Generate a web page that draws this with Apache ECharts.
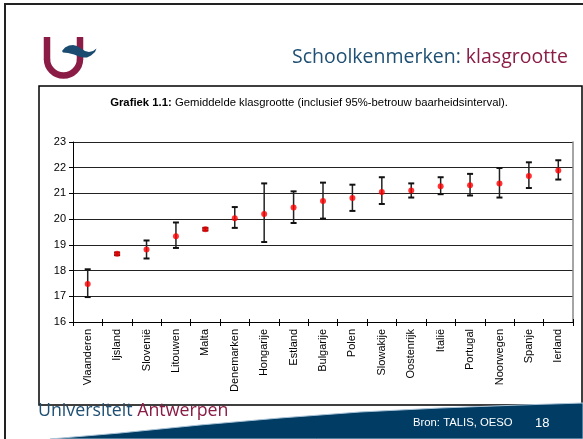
<!DOCTYPE html>
<html>
<head>
<meta charset="utf-8">
<script src="https://cdn.jsdelivr.net/npm/echarts@6/dist/echarts.min.js"></script>
<style>html,body{margin:0;padding:0;background:#fff;}#c{width:583px;height:439px;}</style>
</head>
<body>
<div id="c"></div>
<script>
var categories = ['Vlaanderen','Ijsland','Slovenië','Litouwen','Malta','Denemarken','Hongarije','Estland','Bulgarije','Polen','Slowakije','Oostenrijk','Italië','Portugal','Noorwegen','Spanje','Ierland'];
var means = [17.48, 18.65, 18.82, 19.33, 19.61, 20.03, 20.20, 20.45, 20.71, 20.82, 21.06, 21.11, 21.28, 21.32, 21.39, 21.68, 21.89];
var lower = [16.97, 18.60, 18.47, 18.88, 19.56, 19.66, 19.11, 19.85, 20.02, 20.32, 20.59, 20.84, 20.97, 20.92, 20.84, 21.21, 21.54];
var upper = [18.05, 18.70, 19.17, 19.87, 19.66, 20.47, 21.39, 21.08, 21.42, 21.34, 21.63, 21.39, 21.63, 21.76, 21.99, 22.21, 22.29];
var yTicks = [16, 17, 18, 19, 20, 21, 22, 23];

var errData = categories.map(function (c, i) { return [i, lower[i], upper[i]]; });
var chart = echarts.init(document.getElementById('c'), null, {renderer: 'canvas'});
var fontF = '"Liberation Sans", Arial, sans-serif';
var maroon = '#8a1c45', navy = '#1f5073';

chart.setOption({
  animation: false,
  backgroundColor: '#fff',
  grid: {left: 73, right: 10, top: 142, bottom: 117, containLabel: false},
  xAxis: [{
    type: 'category', data: categories, boundaryGap: true,
    axisLine: {lineStyle: {color: '#000', width: 1}},
    axisTick: {show: true, interval: 0, length: 4, lineStyle: {color: '#000'}},
    axisLabel: {interval: 0, rotate: 90, fontSize: 11, color: '#000', fontFamily: fontF, margin: 7},
    splitLine: {show: false}
  }, {
    type: 'category', data: categories, boundaryGap: true, position: 'bottom',
    axisLine: {show: false},
    axisTick: {show: true, inside: true, interval: 0, length: 3, lineStyle: {color: '#000'}},
    axisLabel: {show: false}
  }],
  yAxis: [{
    type: 'value', min: yTicks[0], max: yTicks[yTicks.length - 1], interval: 1,
    axisLine: {show: true, lineStyle: {color: '#000', width: 1}},
    axisTick: {show: true, length: 4, lineStyle: {color: '#000'}},
    axisLabel: {fontSize: 11, color: '#000', fontFamily: fontF, margin: 7},
    splitLine: {show: true, lineStyle: {color: '#222', width: 1}}
  }, {
    type: 'value', min: yTicks[0], max: yTicks[yTicks.length - 1], interval: 1, position: 'right',
    axisLine: {show: true, lineStyle: {color: '#888', width: 1.5}},
    axisTick: {show: false}, axisLabel: {show: false}, splitLine: {show: false}
  }],
  series: [{
    type: 'custom',
    data: errData,
    z: 3,
    renderItem: function (params, api) {
      var x = api.value(0);
      var lo = api.coord([x, api.value(1)]);
      var hi = api.coord([x, api.value(2)]);
      var hw = 3;
      var st = {stroke: '#222', lineWidth: 1.5};
      var cap = {stroke: '#111', lineWidth: 2};
      return {type: 'group', children: [
        {type: 'line', shape: {x1: lo[0], y1: lo[1], x2: hi[0], y2: hi[1]}, style: st},
        {type: 'line', shape: {x1: lo[0] - hw, y1: lo[1], x2: lo[0] + hw, y2: lo[1]}, style: cap},
        {type: 'line', shape: {x1: hi[0] - hw, y1: hi[1], x2: hi[0] + hw, y2: hi[1]}, style: cap}
      ]};
    }
  }, {
    type: 'scatter',
    data: means,
    symbol: 'circle',
    symbolSize: 6,
    z: 4,
    itemStyle: {color: '#ff0000'}
  }],
  graphic: [
    {type: 'rect', shape: {x: 5, y: 4, width: 590, height: 450}, style: {fill: 'none', stroke: '#222', lineWidth: 2}, z: 10, silent: true},
    {type: 'rect', shape: {x: 39, y: 86, width: 543, height: 319}, style: {fill: 'none', stroke: '#000', lineWidth: 1.5}, z: 10, silent: true},
    {type: 'line', shape: {x1: 47, y1: 37, x2: 47, y2: 59.5}, style: {stroke: maroon, lineWidth: 6.5}, z: 10},
    {type: 'line', shape: {x1: 80, y1: 37, x2: 80, y2: 59.5}, style: {stroke: maroon, lineWidth: 6.5}, z: 10},
    {type: 'arc', shape: {cx: 63.5, cy: 59, r: 16.5, startAngle: 0, endAngle: Math.PI, clockwise: true}, style: {stroke: maroon, lineWidth: 6.5, fill: 'none'}, z: 10},
    {type: 'polygon', shape: {points: [[62,51],[65,47.5],[69,45.5],[73,45],[77,46],[81,48.5],[85,51],[89,52],[93,51],[96.5,48.5],[95,52],[91,55.5],[87,57.5],[83,57.5],[79,56.5],[74,54.5],[68,53],[63,52.5]]}, style: {fill: '#1b4b70'}, z: 11},
    {type: 'text', x: 568, y: 57, style: {text: '{a|Schoolkenmerken: }{b|klasgrootte}', align: 'right', verticalAlign: 'middle',
      rich: {a: {fontSize: 19.5, fontFamily: '"Open Sans", sans-serif', fill: navy}, b: {fontSize: 19.5, fontFamily: '"Open Sans", sans-serif', fill: maroon}}}, z: 10},
    {type: 'text', x: 309, y: 103, style: {text: '{b|Grafiek 1.1:} {n|Gemiddelde klasgrootte (inclusief 95%-betrouw baarheidsinterval).}', align: 'center', verticalAlign: 'middle',
      rich: {b: {fontSize: 11.3, fontWeight: 'bold', fontFamily: fontF, fill: '#000'}, n: {fontSize: 11.3, fontFamily: fontF, fill: '#000'}}}, z: 10},
    {type: 'polygon', shape: {points: [[50,439],[120,433],[200,425],[280,418],[360,412],[440,408],[520,405],[583,403],[583,439]]}, style: {fill: '#003c64', stroke: '#a9c3d6', lineWidth: 1}, z: 12},
    {type: 'text', x: 38, y: 411, style: {text: '{a|Universiteit }{b|Antwerpen}', verticalAlign: 'middle',
      rich: {a: {fontSize: 17.8, fontFamily: '"Open Sans", sans-serif', fill: navy}, b: {fontSize: 17.8, fontFamily: '"Open Sans", sans-serif', fill: maroon}}}, z: 13},
    {type: 'text', x: 413, y: 423, style: {text: 'Bron: TALIS, OESO', fontSize: 11.3, fontFamily: fontF, fill: '#fff', verticalAlign: 'middle'}, z: 13},
    {type: 'text', x: 535, y: 423, style: {text: '18', fontSize: 13, fontFamily: fontF, fill: '#fff', verticalAlign: 'middle'}, z: 13}
  ]
});
</script>
</body>
</html>
